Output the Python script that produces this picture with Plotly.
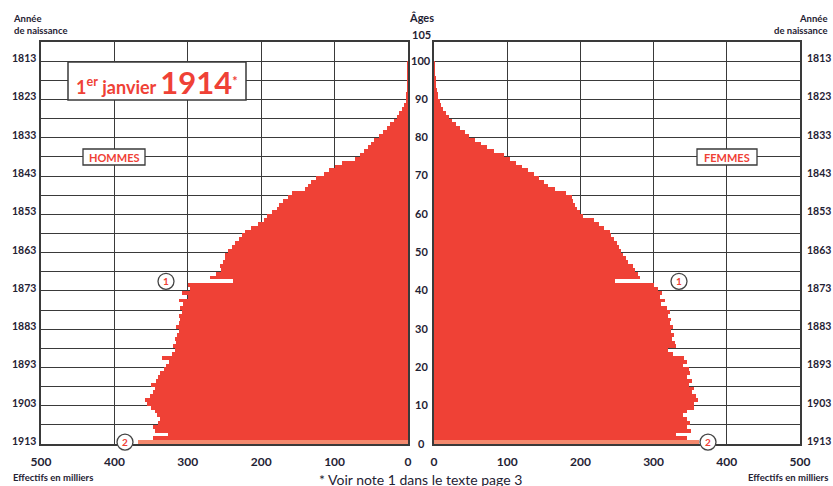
import plotly.graph_objects as go

# ---------------- data (thousands) ----------------
ages = list(range(0, 100))
hommes = [368, 347, 327, 345, 347, 340, 338, 342, 345, 350,
          355, 358, 352, 348, 345, 350, 343, 340, 338, 333,
          330, 325, 335, 322, 318, 320, 316, 318, 315, 312,
          316, 312, 310, 312, 308, 310, 306, 312, 300, 308,
          297, 300, 238, 270, 262, 255, 256, 252, 250, 249,
          245, 240, 236, 230, 226, 222, 214, 205, 196, 192,
          185, 178, 176, 170, 164, 158, 140, 136, 132, 125,
          115, 108, 100, 90, 72, 65, 60, 55, 51, 46,
          40, 34, 29, 24, 19, 15, 12, 8, 5, 3,
          2, 1.5, 1, 0.7, 0.5, 0.3, 0.2, 0.1, 0.1, 0.05]
femmes = [362, 346, 330, 351, 346, 350, 346, 340, 346, 355,
          355, 360, 358, 352, 355, 348, 352, 345, 350, 348,
          340, 345, 342, 327, 319, 330, 329, 325, 328, 324,
          326, 322, 324, 320, 322, 318, 310, 315, 309, 312,
          306, 300, 247, 282, 278, 275, 272, 265, 262, 258,
          256, 253, 250, 246, 242, 240, 232, 225, 218, 204,
          200, 196, 192, 190, 189, 180, 165, 156, 150, 144,
          136, 128, 120, 112, 104, 95, 82, 72, 64, 56,
          48, 42, 36, 30, 25, 20, 16, 12, 10, 8,
          6, 5, 4, 3.2, 2.5, 1.8, 1.3, 1, 0.7, 0.5]
age_labels = [105, 100, 90, 80, 70, 60, 50, 40, 30, 20, 10, 0]
year_label_ages = [100, 90, 80, 70, 60, 50, 40, 30, 20, 10, 0]
census_year = 1914
x_ticks = [0, 100, 200, 300, 400, 500]
notes = [("1", 42), ("2", 0)]

# ---------------- styling ----------------
W, H = 833, 486
RED = "#EF4136"
LIGHT = "#F4896E"
GRID = "#3a3a3a"
TXT = "#1f2233"
FONT = "Lato"

def px(x):
    return x / W

def py(y):
    return 1 - y / H

colors = [LIGHT if a == 0 else RED for a in ages]
ymid = [a + 0.5 for a in ages]

fig = go.Figure()
fig.add_trace(go.Bar(x=hommes, y=ymid, orientation="h", width=1,
                     marker=dict(color=colors, line=dict(width=0)),
                     xaxis="x", yaxis="y", showlegend=False, hoverinfo="x+y"))
fig.add_trace(go.Bar(x=femmes, y=ymid, orientation="h", width=1,
                     marker=dict(color=colors, line=dict(width=0)),
                     xaxis="x2", yaxis="y2", showlegend=False, hoverinfo="x+y"))

ydom = [py(444), py(42)]
axis_common = dict(showgrid=True, gridcolor=GRID, gridwidth=1.2,
                   showline=True, linecolor=GRID, linewidth=1.5, mirror=True,
                   zeroline=False, ticks="", fixedrange=True, automargin=False)
tickf = dict(size=12, color=TXT, family=FONT, weight="bold")
fig.update_layout(
    width=W, height=H, autosize=False,
    margin=dict(l=0, r=0, t=0, b=0, pad=0),
    paper_bgcolor="white", plot_bgcolor="white",
    bargap=0, barmode="overlay",
    font=dict(family=FONT, color=TXT),
    xaxis=dict(domain=[px(41), px(408)], range=[500, 0], tickvals=x_ticks,
               tickfont=tickf, ticklabelstandoff=6, anchor="y", **axis_common),
    xaxis2=dict(domain=[px(434), px(800)], range=[0, 500], tickvals=x_ticks,
                tickfont=tickf, ticklabelstandoff=6, anchor="y2", **axis_common),
    yaxis=dict(domain=ydom, range=[0, 105], tick0=0, dtick=5,
               showticklabels=False, anchor="x", **axis_common),
    yaxis2=dict(domain=ydom, range=[0, 105], tick0=0, dtick=5,
                showticklabels=False, anchor="x2", **axis_common),
)

lab = dict(size=11, color=TXT, family=FONT, weight="bold")
yrf = dict(size=10.5, color=TXT, family=FONT, weight="bold")
small = dict(size=9.5, color=TXT, family=FONT, weight="bold")
ann = []
for a in age_labels:
    ann.append(dict(x=px(421), xref="paper", y=a, yref="y", text=str(a),
                    showarrow=False, xanchor="center", yanchor="middle",
                    yshift=7 if a == 105 else 1, font=lab))
ann.append(dict(x=px(421), xref="paper", y=py(18), yref="paper", text="Âges",
                showarrow=False, xanchor="center", yanchor="middle", font=lab))
for a in year_label_ages:
    yr = str(census_year - 1 - a)
    ann.append(dict(x=px(38), xref="paper", y=a, yref="y", text=yr, showarrow=False,
                    xanchor="right", yanchor="middle", yshift=3, font=yrf))
    ann.append(dict(x=px(805), xref="paper", y=a, yref="y", text=yr, showarrow=False,
                    xanchor="left", yanchor="middle", yshift=3, font=yrf))
ann.append(dict(x=px(11), xref="paper", y=py(11), yref="paper",
                text="Année<br>de naissance", showarrow=False, align="left",
                xanchor="left", yanchor="top", font=small))
ann.append(dict(x=px(829), xref="paper", y=py(11), yref="paper",
                text="Année<br>de naissance", showarrow=False, align="right",
                xanchor="right", yanchor="top", font=small))
ann.append(dict(x=px(11), xref="paper", y=py(477), yref="paper",
                text="Effectifs en milliers", showarrow=False,
                xanchor="left", yanchor="middle", font=small))
ann.append(dict(x=px(830), xref="paper", y=py(477), yref="paper",
                text="Effectifs en milliers", showarrow=False,
                xanchor="right", yanchor="middle", font=small))
ann.append(dict(x=px(420), xref="paper", y=py(479), yref="paper",
                text="* Voir note 1 dans le texte page 3", showarrow=False,
                xanchor="center", yanchor="middle",
                font=dict(size=14, color=TXT, family=FONT)))

shapes = []
shapes.append(dict(type="rect", xref="paper", yref="paper",
                   x0=px(68), x1=px(246), y0=py(100), y1=py(62),
                   fillcolor="white", line=dict(color=GRID, width=1.5), layer="above"))
ann.append(dict(x=px(157), xref="paper", y=py(82), yref="paper",
                text=f"1<sup>er</sup> janvier <span style='font-size:31px'>{census_year}</span><sup>*</sup>",
                showarrow=False, xanchor="center", yanchor="middle",
                font=dict(size=18, color=RED, family=FONT, weight="bold")))
for label, x0, x1 in [("HOMMES", 83, 145), ("FEMMES", 697, 757)]:
    shapes.append(dict(type="rect", xref="paper", yref="paper",
                       x0=px(x0), x1=px(x1), y0=py(165), y1=py(149),
                       fillcolor="white", line=dict(color=GRID, width=1.3), layer="above"))
    ann.append(dict(x=px((x0 + x1) / 2), xref="paper", y=py(157), yref="paper",
                    text=label, showarrow=False, xanchor="center", yanchor="middle",
                    font=dict(size=11, color=RED, family=FONT, weight="bold")))
for (num, age), (xl, xr) in zip(notes, [(166, 679), (125, 708)]):
    yc = 444 - (age + 0.5) * (402 / 105)
    for xc in (xl, xr):
        shapes.append(dict(type="circle", xref="paper", yref="paper",
                           x0=px(xc - 8), x1=px(xc + 8), y0=py(yc + 8), y1=py(yc - 8),
                           fillcolor="white", line=dict(color="#444", width=1.3), layer="above"))
        ann.append(dict(x=px(xc), xref="paper", y=py(yc), yref="paper", text=num,
                        showarrow=False, xanchor="center", yanchor="middle",
                        font=dict(size=10, color=RED, family=FONT, weight="bold")))

fig.update_layout(annotations=ann, shapes=shapes)
fig.write_html(
    "out.html",
    config={"displayModeBar": False},
    post_script="document.body.style.margin='0px';"
                "document.documentElement.style.overflow='hidden';"
                "document.body.style.overflow='hidden';",
)
